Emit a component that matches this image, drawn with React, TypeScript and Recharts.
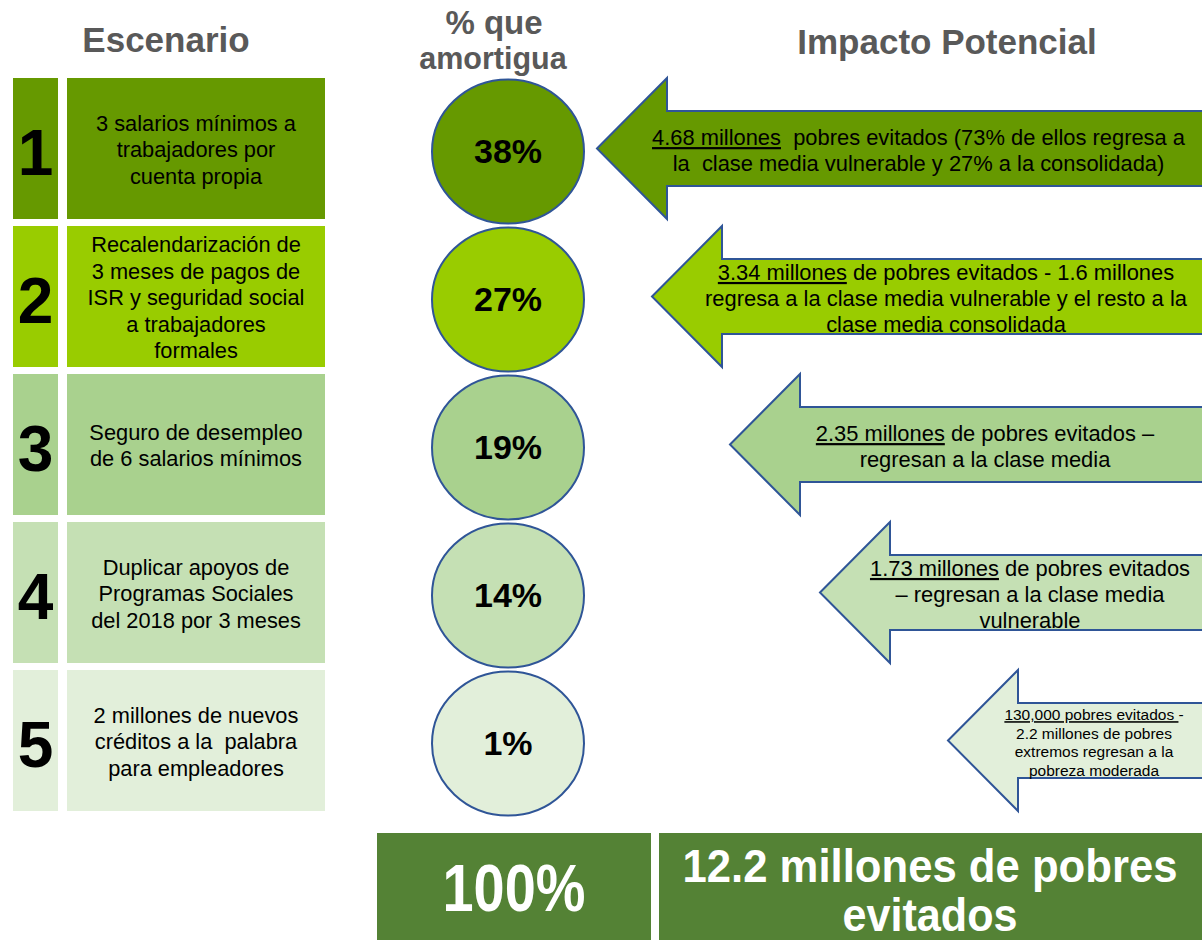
import { Bar, ComposedChart, XAxis, YAxis } from "recharts";

// Scenario number shown in the left-hand tab of each row.
const scenarioIds = ["1", "2", "3", "4", "5"];

// Scenario descriptions, one entry per line as laid out in the source slide.
const scenarioLines = [
  ["3 salarios mínimos a", "trabajadores por", "cuenta propia"],
  [
    "Recalendarización de",
    "3 meses de pagos de",
    "ISR y seguridad social",
    "a trabajadores",
    "formales",
  ],
  ["Seguro de desempleo", "de 6 salarios mínimos"],
  ["Duplicar apoyos de", "Programas Sociales", "del 2018 por 3 meses"],
  ["2 millones de nuevos", "créditos a la  palabra", "para empleadores"],
];

// "% que amortigua" — share of the shock each scenario cushions.
const amortiguaPct = [38, 27, 19, 14, 1];

// How far each impact arrow reaches in from the right edge.
const arrowReach = [605, 550, 472, 382, 254];

// Impact texts; text between __ is underlined.
const impactLines = [
  [
    "__4.68 millones__  pobres evitados (73% de ellos regresa a",
    "la  clase media vulnerable y 27% a la consolidada)",
  ],
  [
    "__3.34 millones__ de pobres evitados - 1.6 millones",
    "regresa a la clase media vulnerable y el resto a la",
    "clase media consolidada",
  ],
  ["__2.35 millones__ de pobres evitados –", "regresan a la clase media"],
  [
    "__1.73 millones__ de pobres evitados",
    "– regresan a la clase media",
    "vulnerable",
  ],
  [
    "__130,000 pobres evitados __-",
    "2.2 millones de pobres",
    "extremos regresan a la",
    "pobreza moderada",
  ],
];

const totalPctLabel = "100%";
const totalImpactLines = ["12.2 millones de pobres", "evitados"];

/** Row shades, darkest (biggest effect) first. */
const ROW_COLORS = ["#669900", "#99cc00", "#a9d18e", "#c5e0b4", "#e2efda"];
const OUTLINE = "#2f5597";
const TOTAL_GREEN = "#548235";
const HEADER_GREY = "#595959";
const FONT = "'Liberation Sans', Arial, sans-serif";
const NARROW = "'Liberation Sans Narrow', 'Arial Narrow', 'Liberation Sans', Arial, sans-serif";

const W = 1202;
const H = 940;

const rows = scenarioIds.map((id, i) => ({
  id,
  pct: amortiguaPct[i],
  reach: arrowReach[i],
  scenario: scenarioLines[i],
  impact: impactLines[i],
}));

const one = () => 1;
const rowIndex = (p: any) => scenarioIds.indexOf(p.id);

function TextBlock({
  lines,
  cx,
  cy,
  size,
  lineHeight,
  bold = false,
  fill = "#000",
}: {
  lines: string[];
  cx: number;
  cy: number;
  size: number;
  lineHeight: number;
  bold?: boolean;
  fill?: string;
}) {
  const first = cy - ((lines.length - 1) * lineHeight) / 2 + size * 0.35;
  return (
    <text
      textAnchor="middle"
      fontFamily={FONT}
      fontSize={size}
      fontWeight={bold ? "bold" : "normal"}
      fill={fill}
      style={{ whiteSpace: "pre" }}
    >
      {lines.map((ln, i) => (
        <tspan key={i} x={cx} y={first + i * lineHeight}>
          {ln.split("__").map((seg, j) =>
            seg ? (
              <tspan key={j} textDecoration={j % 2 ? "underline" : undefined}>
                {seg}
              </tspan>
            ) : null
          )}
        </tspan>
      ))}
    </text>
  );
}

function NumberTab(p: any) {
  const { x, y, width, height, payload } = p;
  return (
    <g>
      <rect x={x} y={y} width={width} height={height} fill={ROW_COLORS[rowIndex(payload)]} />
      <text
        x={x + width / 2}
        y={y + height / 2 + 4 + 64 * 0.35}
        textAnchor="middle"
        fontFamily={FONT}
        fontSize={64}
        fontWeight="bold"
        fill="#000"
      >
        {payload.id}
      </text>
    </g>
  );
}

function ScenarioBox(p: any) {
  const { x, y, width, height, payload } = p;
  return (
    <g>
      <rect x={x} y={y} width={width} height={height} fill={ROW_COLORS[rowIndex(payload)]} />
      <TextBlock
        lines={payload.scenario}
        cx={x + width / 2}
        cy={y + height / 2 + 1}
        size={21.8}
        lineHeight={26.5}
      />
    </g>
  );
}

function PctCircle(p: any) {
  const { x, y, width, height, payload } = p;
  const cx = x + width / 2;
  const cy = y + height / 2 + 3;
  return (
    <g>
      <ellipse
        cx={cx}
        cy={cy}
        rx={width / 2}
        ry={height / 2 + 1.5}
        fill={ROW_COLORS[rowIndex(payload)]}
        stroke={OUTLINE}
        strokeWidth={2}
      />
      <text
        x={cx}
        y={cy + 34 * 0.35}
        textAnchor="middle"
        fontFamily={FONT}
        fontSize={34}
        fontWeight="bold"
        fill="#000"
      >
        {`${payload.pct}%`}
      </text>
    </g>
  );
}

function ImpactArrow(p: any) {
  const { x, y, width, height, payload } = p;
  const left = Math.min(x, x + width);
  const right = Math.max(x, x + width) + 12;
  const cy = y + height / 2;
  const head = 70;
  const half = 37.5;
  const base = left + head;
  const pts = [
    [left, cy],
    [base, y],
    [base, cy - half],
    [right, cy - half],
    [right, cy + half],
    [base, cy + half],
    [base, y + height],
  ]
    .map((q) => q.join(","))
    .join(" ");
  const small = payload.impact.length > 3;
  return (
    <g>
      <polygon
        points={pts}
        fill={ROW_COLORS[rowIndex(payload)]}
        stroke={OUTLINE}
        strokeWidth={2}
        strokeLinejoin="miter"
      />
      <TextBlock
        lines={payload.impact}
        cx={(base + W) / 2 - 16}
        cy={cy + 2}
        size={small ? 15.5 : 21.9}
        lineHeight={small ? 18.5 : 26.2}
      />
    </g>
  );
}

export default function App() {
  return (
    <div style={{ position: "absolute", left: 0, top: 0, width: W, height: H, background: "#fff" }}>
      <ComposedChart
        width={W}
        height={H}
        data={rows}
        layout="vertical"
        barSize={141}
        margin={{ top: 74, right: 0, bottom: 126, left: 0 }}
      >
        {/* One hidden category axis per column so the columns overlay instead of sitting side by side. */}
        <YAxis yAxisId="num" type="category" dataKey="id" hide />
        <YAxis yAxisId="scen" type="category" dataKey="id" hide />
        <YAxis yAxisId="circ" type="category" dataKey="id" hide />
        <YAxis yAxisId="arrow" type="category" dataKey="id" hide />
        <XAxis xAxisId="num" type="number" domain={[0, 1]} hide padding={{ left: 13, right: W - 58 }} />
        <XAxis xAxisId="scen" type="number" domain={[0, 1]} hide padding={{ left: 67, right: W - 325 }} />
        <XAxis xAxisId="circ" type="number" domain={[0, 1]} hide padding={{ left: 432, right: W - 584 }} />
        <XAxis xAxisId="arrow" type="number" domain={[0, W]} reversed allowDataOverflow hide />

        <Bar xAxisId="num" yAxisId="num" dataKey={one} shape={NumberTab} isAnimationActive={false} />
        <Bar xAxisId="scen" yAxisId="scen" dataKey={one} shape={ScenarioBox} isAnimationActive={false} />
        <Bar xAxisId="circ" yAxisId="circ" dataKey={one} shape={PctCircle} isAnimationActive={false} />
        <Bar xAxisId="arrow" yAxisId="arrow" dataKey="reach" shape={ImpactArrow} isAnimationActive={false} />

        {/* Column headers */}
        <g fontFamily={FONT} fontWeight="bold" fill={HEADER_GREY} textAnchor="middle">
          <text x={166} y={40 + 35 * 0.35} fontSize={35}>Escenario</text>
          <text x={494} y={22 + 33 * 0.35} fontSize={33}>% que</text>
          <text x={493} y={58 + 30.5 * 0.35} fontSize={30.5}>amortigua</text>
          <text x={947} y={42 + 35 * 0.35} fontSize={35}>Impacto Potencial</text>
        </g>

        {/* Totals */}
        <rect x={377} y={833} width={274} height={H - 833} fill={TOTAL_GREEN} />
        <rect x={659} y={833} width={W - 659} height={H - 833} fill={TOTAL_GREEN} />
        <g fontWeight="bold" fill="#fff" textAnchor="middle">
          <text
            x={514}
            y={888 + 66 * 0.35}
            fontFamily={NARROW}
            fontSize={66}
            textLength={143}
            lengthAdjust="spacingAndGlyphs"
          >
            {totalPctLabel}
          </text>
          <text
            x={930}
            y={866 + 46 * 0.35}
            fontFamily={FONT}
            fontSize={46}
            textLength={495}
            lengthAdjust="spacingAndGlyphs"
          >
            {totalImpactLines[0]}
          </text>
          <text
            x={930}
            y={915 + 46 * 0.35}
            fontFamily={FONT}
            fontSize={46}
            textLength={175}
            lengthAdjust="spacingAndGlyphs"
          >
            {totalImpactLines[1]}
          </text>
        </g>
      </ComposedChart>
    </div>
  );
}
